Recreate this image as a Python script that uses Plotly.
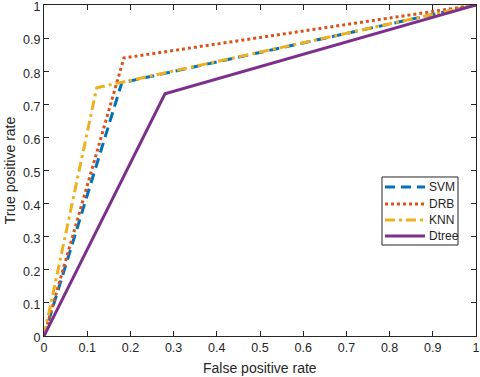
import plotly.graph_objects as go

fpr_svm = [0, 0.18, 1]
tpr_svm = [0, 0.765, 1]
fpr_drb = [0, 0.185, 1]
tpr_drb = [0, 0.84, 1]
fpr_knn = [0, 0.122, 1]
tpr_knn = [0, 0.75, 1]
fpr_dtree = [0, 0.28, 1]
tpr_dtree = [0, 0.732, 1]

names = ["SVM", "DRB", "KNN", "Dtree"]
colors = ["#0072BD", "#D95319", "#EDB120", "#7E2F8E"]
dashes = ["10px,6px", "3px,3px", "10px,4px,3px,4px", "solid"]

ticks = [0, 0.1, 0.2, 0.3, 0.4, 0.5, 0.6, 0.7, 0.8, 0.9, 1]
ticklabels = ["0", "0.1", "0.2", "0.3", "0.4", "0.5", "0.6", "0.7", "0.8", "0.9", "1"]

FONT = "Liberation Sans, Arial"
TXT = "#262626"

series = [(fpr_svm, tpr_svm), (fpr_drb, tpr_drb), (fpr_knn, tpr_knn), (fpr_dtree, tpr_dtree)]

fig = go.Figure()
for (xs, ys), nm, c, d in zip(series, names, colors, dashes):
    fig.add_trace(go.Scatter(x=xs, y=ys, mode="lines", name=nm,
                             line=dict(color=c, width=3, dash=d)))

axis_common = dict(range=[0, 1], tickvals=ticks, ticktext=ticklabels,
                   showline=True, linecolor=TXT, linewidth=1, mirror="ticks",
                   ticks="inside", ticklen=5, tickcolor=TXT,
                   showgrid=False, zeroline=False, automargin=False,
                   ticklabeloverflow="allow",
                   tickfont=dict(family=FONT, size=12.5, color=TXT))

# custom MATLAB-like legend box (paper coords of the plot area)
shapes = [dict(type="rect", xref="paper", yref="paper",
               x0=0.7824, x1=0.9583, y0=0.2749, y1=0.4804,
               line=dict(color=TXT, width=1), fillcolor="white", layer="above")]
annotations = []
item_y = [0.4502, 0.3988, 0.3505, 0.3021]
for nm, c, d, yy in zip(names, colors, dashes, item_y):
    shapes.append(dict(type="line", xref="paper", yref="paper",
                       x0=0.7894, x1=0.8819, y0=yy, y1=yy, layer="above",
                       line=dict(color=c, width=3, dash=d)))
    annotations.append(dict(text=nm, xref="paper", yref="paper", x=0.8866, y=yy,
                            xanchor="left", yanchor="middle", showarrow=False,
                            font=dict(family=FONT, size=12, color=TXT)))

annotations += [
    dict(text="False positive rate", xref="paper", yref="paper",
         x=0.5, y=-0.097, xanchor="center", yanchor="middle",
         showarrow=False, font=dict(family=FONT, size=14, color=TXT)),
    dict(text="True positive rate", xref="paper", yref="paper",
         x=-0.079, y=0.5, xanchor="center", yanchor="middle", textangle=-90,
         showarrow=False, font=dict(family=FONT, size=14, color=TXT)),
]

fig.update_layout(
    width=480, height=377,
    margin=dict(l=44, r=4, t=5, b=41),
    paper_bgcolor="white", plot_bgcolor="white",
    font=dict(family=FONT, size=12, color=TXT),
    xaxis=dict(**axis_common),
    yaxis=dict(**axis_common, ticklabelshift=2),
    showlegend=False,
    shapes=shapes,
    annotations=annotations,
)

fig.write_html("out.html", config={"displayModeBar": False},
               post_script="document.body.style.margin='0';")
